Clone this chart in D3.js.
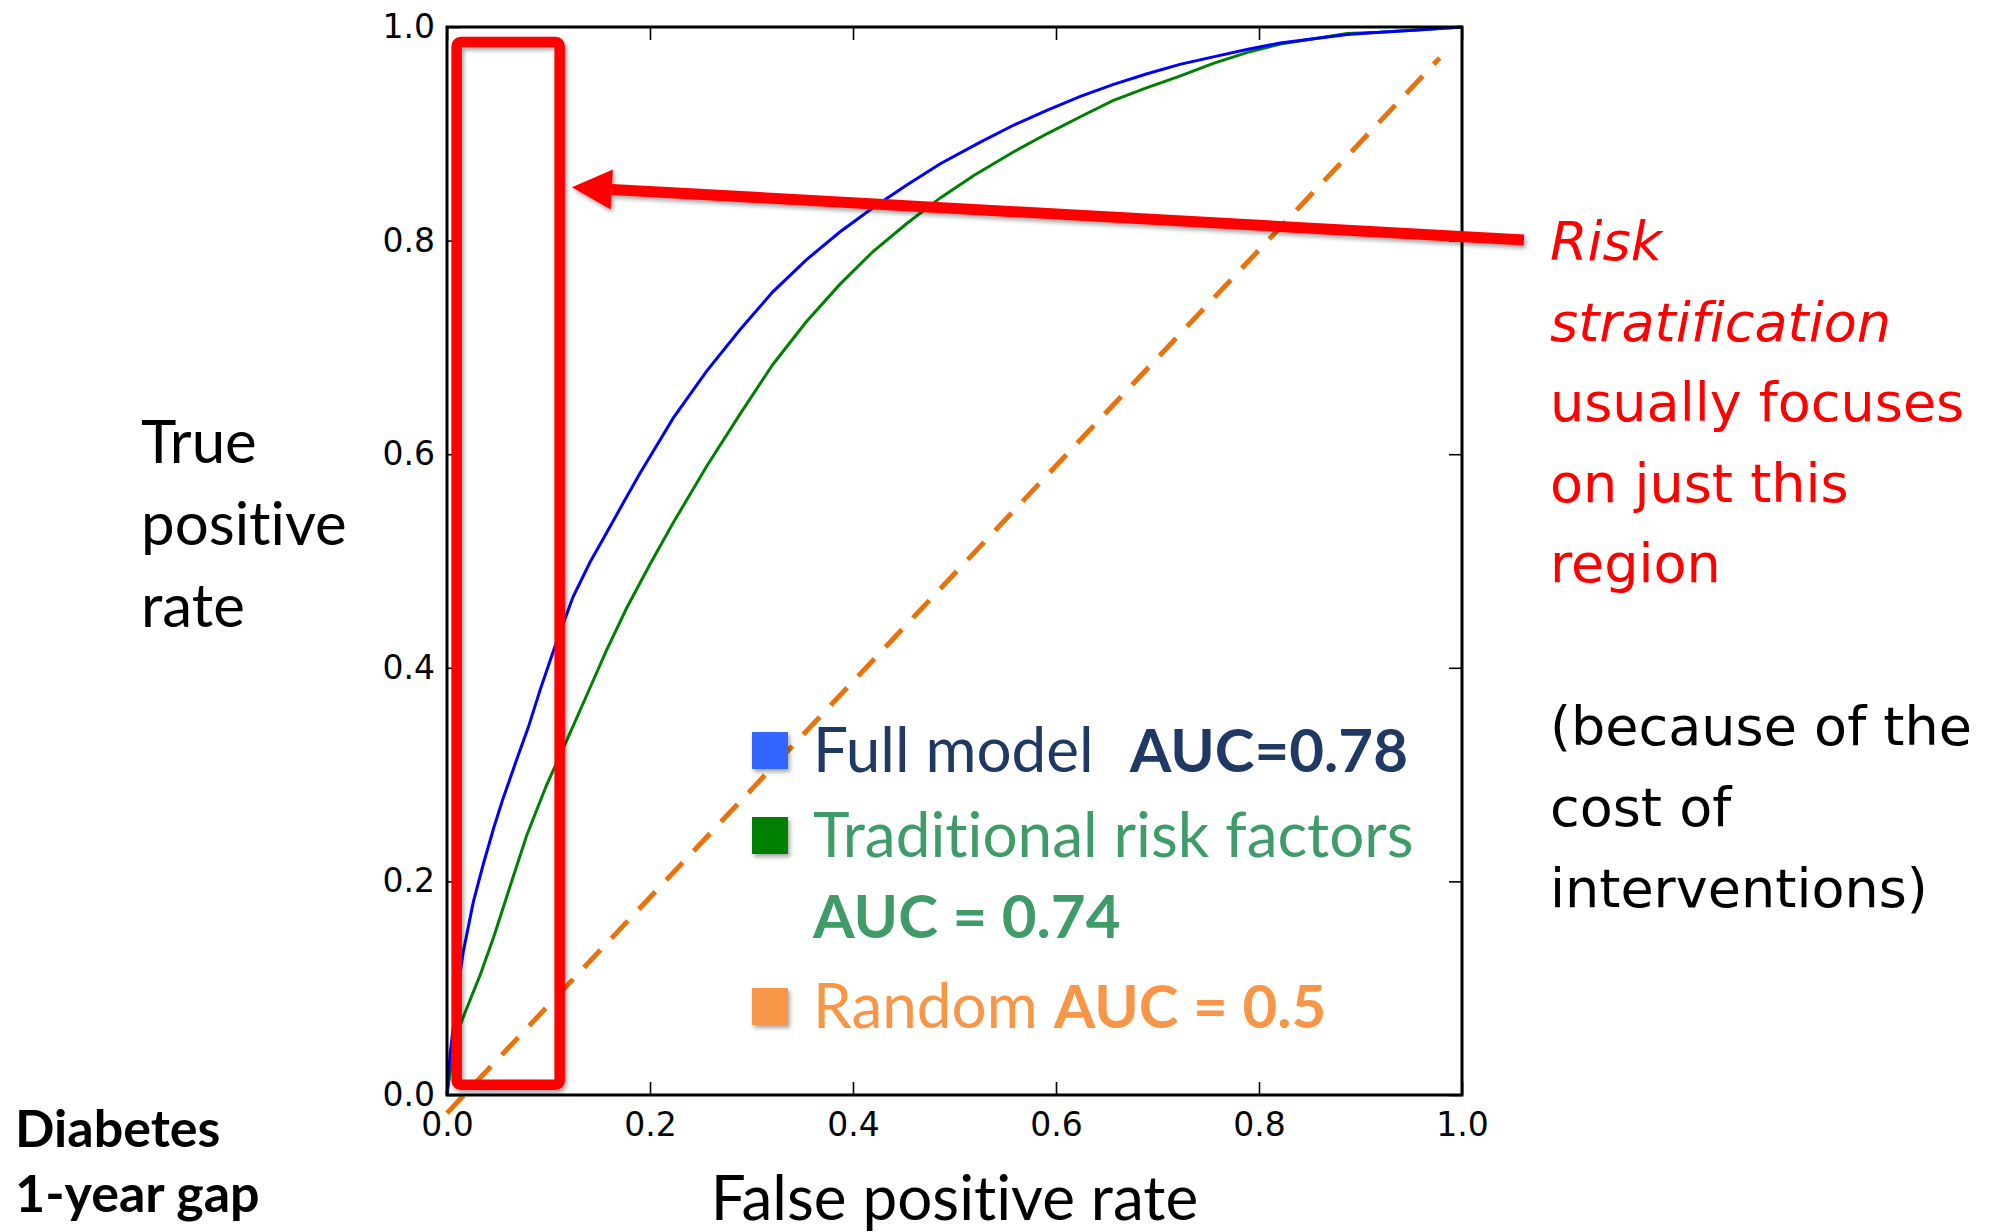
<!DOCTYPE html>
<html>
<head>
<meta charset="utf-8">
<script src="https://cdn.jsdelivr.net/npm/d3@7"></script>
<style>
  body { margin: 0; background: #fff; }
  svg { display: block; }
  text { font-variant-ligatures: none; }
  .tick text { font-family: "DejaVu Sans", sans-serif; font-size: 33px; fill: #000; }
  .tick line { stroke: #000; stroke-width: 1.6; }
</style>
</head>
<body>
<div id="chart"></div>
<script>
// ROC curves, Diabetes 1-year gap

const width = 1997;
const height = 1232;

// curve points: [false positive rate, true positive rate]
const fullModelRoc = [
  [0, 0], [0.003, 0.038], [0.011, 0.102], [0.016, 0.134], [0.026, 0.181],
  [0.036, 0.217], [0.046, 0.250], [0.055, 0.277], [0.069, 0.315], [0.080, 0.344],
  [0.092, 0.380], [0.106, 0.419], [0.124, 0.466], [0.141, 0.499], [0.157, 0.526],
  [0.174, 0.555], [0.190, 0.582], [0.223, 0.634], [0.256, 0.678], [0.289, 0.717],
  [0.321, 0.752], [0.354, 0.782], [0.387, 0.808], [0.420, 0.831], [0.453, 0.852],
  [0.486, 0.872], [0.525, 0.892], [0.558, 0.908], [0.591, 0.922], [0.624, 0.935],
  [0.656, 0.946], [0.689, 0.956], [0.722, 0.965], [0.755, 0.972], [0.788, 0.979],
  [0.821, 0.985], [0.854, 0.989], [0.887, 0.993], [0.919, 0.995], [0.952, 0.997],
  [1, 1]
];

const traditionalRoc = [
  [0, 0], [0.003, 0.020], [0.008, 0.052], [0.016, 0.073], [0.0325, 0.112],
  [0.046, 0.148], [0.062, 0.195], [0.0785, 0.243], [0.098, 0.290], [0.118, 0.332],
  [0.138, 0.375], [0.157, 0.416], [0.177, 0.456], [0.200, 0.497], [0.223, 0.536],
  [0.256, 0.589], [0.289, 0.638], [0.321, 0.684], [0.354, 0.724], [0.387, 0.759],
  [0.420, 0.790], [0.453, 0.816], [0.486, 0.840], [0.519, 0.861], [0.558, 0.883],
  [0.591, 0.900], [0.624, 0.916], [0.656, 0.931], [0.689, 0.943], [0.722, 0.954],
  [0.755, 0.966], [0.788, 0.976], [0.821, 0.984], [0.854, 0.989], [0.887, 0.994],
  [0.919, 0.995], [0.952, 0.997], [1, 1]
];

const randomLine = [[0, -0.017], [0.978, 0.971]];

const tickValues = [0, 0.2, 0.4, 0.6, 0.8, 1.0];

// highlighted region and arrow, in data units
const regionBox = { x0: 0.0095, x1: 0.111, y0: 0.0097, y1: 0.986 };
const arrowTail = [1.061, 0.8006];
const arrowTip = [0.123, 0.85];

const legendLabels = ["Full model", "Traditional risk factors", "Random"];
const legendAuc = ["AUC=0.78", "AUC = 0.74", "AUC = 0.5"];
const legendSwatch = ["#3366ff", "#008000", "#f79646"];
const legendText = ["#1f3864", "#3f9b68", "#f79646"];

const noteRed = ["Risk", "stratification", "usually focuses", "on just this", "region"];
const noteBlack = ["(because of the", "cost of", "interventions)"];

const yTitle = ["True", "positive", "rate"];
const cornerTitle = ["Diabetes", "1-year gap"];

const svg = d3.select("#chart")
  .append("svg")
  .attr("width", width)
  .attr("height", height);

svg.append("rect").attr("width", width).attr("height", height).attr("fill", "#fff");

const defs = svg.append("defs");
defs.append("filter")
  .attr("id", "shadow")
  .attr("x", "-20%").attr("y", "-20%").attr("width", "140%").attr("height", "140%")
  .append("feDropShadow")
  .attr("dx", 2).attr("dy", 3)
  .attr("stdDeviation", 2)
  .attr("flood-color", "#000")
  .attr("flood-opacity", 0.35);

const x = d3.scaleLinear().domain([0, 1]).range([447, 1462]);
const y = d3.scaleLinear().domain([0, 1]).range([1095, 27]);

// axes, ticks pointing inwards on all four sides
const tickLen = 13;

svg.append("g")
  .attr("transform", `translate(0,${y(0)})`)
  .call(d3.axisBottom(x).tickValues(tickValues).tickFormat(d3.format(".1f"))
    .tickSizeInner(-tickLen).tickSizeOuter(0).tickPadding(18))
  .call(g => g.select(".domain").remove());

svg.append("g")
  .attr("transform", `translate(${x(0)},0)`)
  .call(d3.axisLeft(y).tickValues(tickValues).tickFormat(d3.format(".1f"))
    .tickSizeInner(-tickLen).tickSizeOuter(0).tickPadding(12))
  .call(g => g.select(".domain").remove());

svg.append("g")
  .attr("transform", `translate(0,${y(1)})`)
  .call(d3.axisTop(x).tickValues(tickValues).tickFormat("")
    .tickSizeInner(-tickLen).tickSizeOuter(0))
  .call(g => g.select(".domain").remove());

svg.append("g")
  .attr("transform", `translate(${x(1)},0)`)
  .call(d3.axisRight(y).tickValues(tickValues).tickFormat("")
    .tickSizeInner(-tickLen).tickSizeOuter(0))
  .call(g => g.select(".domain").remove());

// curves
const line = d3.line().x(d => x(d[0])).y(d => y(d[1]));

svg.append("path")
  .datum(traditionalRoc)
  .attr("d", line)
  .attr("fill", "none")
  .attr("stroke", "#008000")
  .attr("stroke-width", 3);

svg.append("path")
  .datum(fullModelRoc)
  .attr("d", line)
  .attr("fill", "none")
  .attr("stroke", "#0000ff")
  .attr("stroke-width", 3);

svg.append("path")
  .datum(randomLine)
  .attr("d", line)
  .attr("fill", "none")
  .attr("stroke", "#e8730c")
  .attr("stroke-width", 5)
  .attr("stroke-dasharray", "24 16");

// frame
svg.append("rect")
  .attr("x", x(0))
  .attr("y", y(1))
  .attr("width", x(1) - x(0))
  .attr("height", y(0) - y(1))
  .attr("fill", "none")
  .attr("stroke", "#000")
  .attr("stroke-width", 3);

// legend
const legendRowsY = [772, 857, 1028];
const legend = svg.append("g");

legendSwatch.forEach((c, i) => {
  legend.append("rect")
    .attr("x", 752)
    .attr("y", legendRowsY[i] - 40)
    .attr("width", 36)
    .attr("height", 37)
    .attr("fill", c)
    .attr("filter", "url(#shadow)");
});

legendLabels.forEach((label, i) => {
  const t = legend.append("text")
    .attr("x", 813)
    .attr("y", legendRowsY[i])
    .attr("fill", legendText[i])
    .style("font-family", "Lato, sans-serif")
    .style("font-size", "62px");
  t.append("tspan").text(label);
  const auc = t.append("tspan")
    .style("font-weight", "bold")
    .style("font-size", "60px")
    .text(legendAuc[i]);
  if (i === 0) auc.attr("dx", 36);
  else if (i === 1) auc.attr("x", 813).attr("dy", 81);
  else auc.attr("dx", 16);
});

// highlighted region
svg.append("rect")
  .attr("x", x(regionBox.x0))
  .attr("y", y(regionBox.y1))
  .attr("width", x(regionBox.x1) - x(regionBox.x0))
  .attr("height", y(regionBox.y0) - y(regionBox.y1))
  .attr("rx", 4)
  .attr("fill", "none")
  .attr("stroke", "#ff0000")
  .attr("stroke-width", 10.5)
  .attr("filter", "url(#shadow)");

// arrow from the note to the box
const [tx, ty] = [x(arrowTail[0]), y(arrowTail[1])];
const [hx, hy] = [x(arrowTip[0]), y(arrowTip[1])];
const ang = Math.atan2(ty - hy, tx - hx);
const headLen = 40;
const headHalf = 20;
const bx = hx + headLen * Math.cos(ang);
const by = hy + headLen * Math.sin(ang);

const arrow = svg.append("g").attr("filter", "url(#shadow)");
arrow.append("line")
  .attr("x1", tx).attr("y1", ty)
  .attr("x2", bx).attr("y2", by)
  .attr("stroke", "#ff0000")
  .attr("stroke-width", 11);
arrow.append("polygon")
  .attr("points", [
    [hx, hy],
    [bx - headHalf * Math.sin(ang), by + headHalf * Math.cos(ang)],
    [bx + headHalf * Math.sin(ang), by - headHalf * Math.cos(ang)]
  ].map(p => p.join(",")).join(" "))
  .attr("fill", "#ff0000");

// note on the right
const note = svg.append("g")
  .style("font-family", "'DejaVu Sans', sans-serif")
  .style("font-size", "54px");

noteRed.forEach((s, i) => {
  note.append("text")
    .attr("x", 1550)
    .attr("y", 260 + i * 80.6)
    .attr("fill", "#ff0000")
    .style("font-style", i < 2 ? "italic" : "normal")
    .text(s);
});

noteBlack.forEach((s, i) => {
  note.append("text")
    .attr("x", 1550)
    .attr("y", 745 + i * 81)
    .attr("fill", "#000")
    .text(s);
});

// axis titles
svg.append("g")
  .selectAll("text")
  .data(yTitle)
  .join("text")
  .attr("x", 141)
  .attr("y", (d, i) => 463 + i * 82)
  .style("font-family", "Lato, sans-serif")
  .style("font-size", "60px")
  .text(d => d);

svg.append("text")
  .attr("x", (x(0) + x(1)) / 2)
  .attr("y", 1220)
  .attr("text-anchor", "middle")
  .style("font-family", "Lato, sans-serif")
  .style("font-size", "62px")
  .text("False positive rate");

svg.append("g")
  .selectAll("text")
  .data(cornerTitle)
  .join("text")
  .attr("x", 15)
  .attr("y", (d, i) => 1147 + i * 65)
  .style("font-family", "Lato, sans-serif")
  .style("font-size", "52px")
  .style("font-weight", "bold")
  .text(d => d);
</script>
</body>
</html>
